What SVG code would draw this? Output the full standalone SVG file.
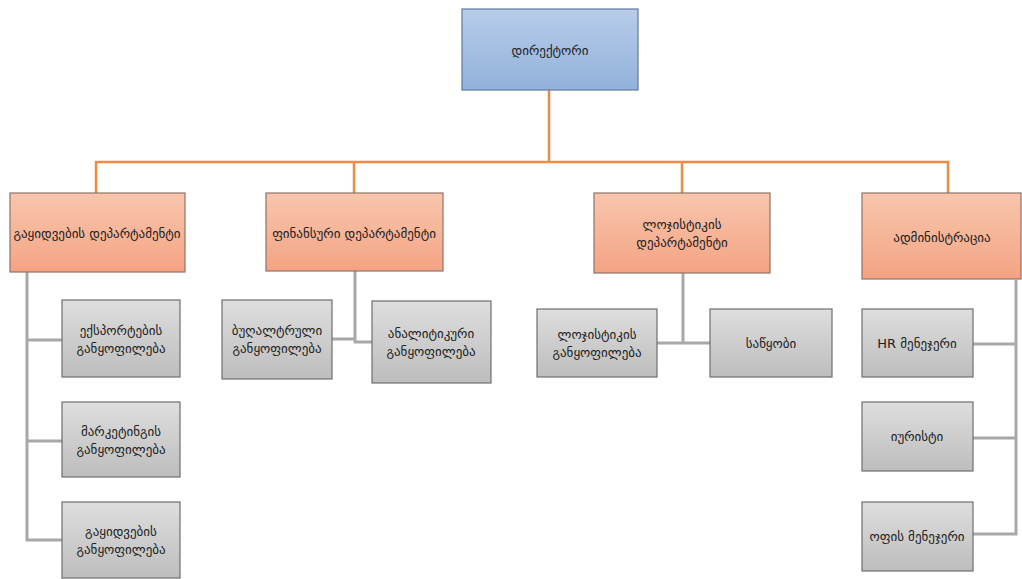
<svg xmlns="http://www.w3.org/2000/svg" width="1022" height="579" viewBox="0 0 1022 579">
<defs>
<linearGradient id="gBlue" x1="0" y1="0" x2="0" y2="1"><stop offset="0" stop-color="#b7cdea"/><stop offset="1" stop-color="#92b1db"/></linearGradient>
<linearGradient id="gOrange" x1="0" y1="0" x2="0" y2="1"><stop offset="0" stop-color="#f8c6ad"/><stop offset="1" stop-color="#f4a383"/></linearGradient>
<linearGradient id="gGray" x1="0" y1="0" x2="0" y2="1"><stop offset="0" stop-color="#dedede"/><stop offset="1" stop-color="#bdbdbd"/></linearGradient>
</defs>
<style>
.top{fill:url(#gBlue);stroke:#5f7b9e;stroke-width:1.2}
.dept{fill:url(#gOrange);stroke:#8e7368;stroke-width:1.2}
.unit{fill:url(#gGray);stroke:#6e6e6e;stroke-width:1.2}
text{font-family:"DejaVu Sans",sans-serif;font-size:13px;fill:#222;text-anchor:middle;dominant-baseline:central}
.orange{fill:none;stroke:#ef8a47;stroke-width:2.5}
.gray{fill:none;stroke:#a8a8a8;stroke-width:3}
</style>
<rect width="1022" height="579" fill="#ffffff"/>
<g id="connectors">
<path class="orange" d="M549,90 V162 M96,193 V162 H948 V193 M354,162 V193 M682,162 V193"/>
<path class="gray" d="M27,272 V540 H62 M27,340 H62 M27,441 H62"/>
<path class="gray" d="M355,271 V342 H372 M332,339 H355"/>
<path class="gray" d="M683,273 V343 M657,343 H710"/>
<path class="gray" d="M1016,280 V534 H973 M973,344 H1016 M973,438 H1016"/>
</g>
<g id="director"><rect class="top" x="462" y="9" width="176" height="81"/><text x="550" y="50">დირექტორი</text></g>
<g id="sales"><rect class="dept" x="10" y="193" width="175" height="79"/><text x="97" y="233">გაყიდვების დეპარტამენტი</text></g>
<g id="finance"><rect class="dept" x="266" y="193" width="177" height="78"/><text x="354" y="233">ფინანსური დეპარტამენტი</text></g>
<g id="logistics"><rect class="dept" x="594" y="193" width="176" height="80"/><text x="682" y="224">ლოჯისტიკის</text><text x="682" y="242">დეპარტამენტი</text></g>
<g id="admin"><rect class="dept" x="862" y="193" width="159" height="86"/><text x="942" y="237">ადმინისტრაცია</text></g>
<g id="export"><rect class="unit" x="62" y="300" width="118" height="77"/><text x="121" y="330">ექსპორტების</text><text x="121" y="348">განყოფილება</text></g>
<g id="marketing"><rect class="unit" x="62" y="402" width="118" height="75"/><text x="121" y="431">მარკეტინგის</text><text x="121" y="449">განყოფილება</text></g>
<g id="salesdiv"><rect class="unit" x="62" y="502" width="118" height="76"/><text x="121" y="531">გაყიდვების</text><text x="121" y="549">განყოფილება</text></g>
<g id="accounting"><rect class="unit" x="222" y="300" width="110" height="79"/><text x="277" y="330">ბუღალტრული</text><text x="277" y="348">განყოფილება</text></g>
<g id="analytics"><rect class="unit" x="372" y="301" width="119" height="82"/><text x="431" y="333">ანალიტიკური</text><text x="431" y="351">განყოფილება</text></g>
<g id="logdiv"><rect class="unit" x="537" y="309" width="120" height="68"/><text x="597" y="334">ლოჯისტიკის</text><text x="597" y="352">განყოფილება</text></g>
<g id="warehouse"><rect class="unit" x="710" y="309" width="122" height="68"/><text x="771" y="343">საწყობი</text></g>
<g id="hr"><rect class="unit" x="862" y="309" width="111" height="68"/><text x="917" y="343">HR მენეჯერი</text></g>
<g id="lawyer"><rect class="unit" x="862" y="402" width="111" height="69"/><text x="917" y="436">იურისტი</text></g>
<g id="office"><rect class="unit" x="862" y="502" width="111" height="69"/><text x="917" y="536">ოფის მენეჯერი</text></g>
</svg>
